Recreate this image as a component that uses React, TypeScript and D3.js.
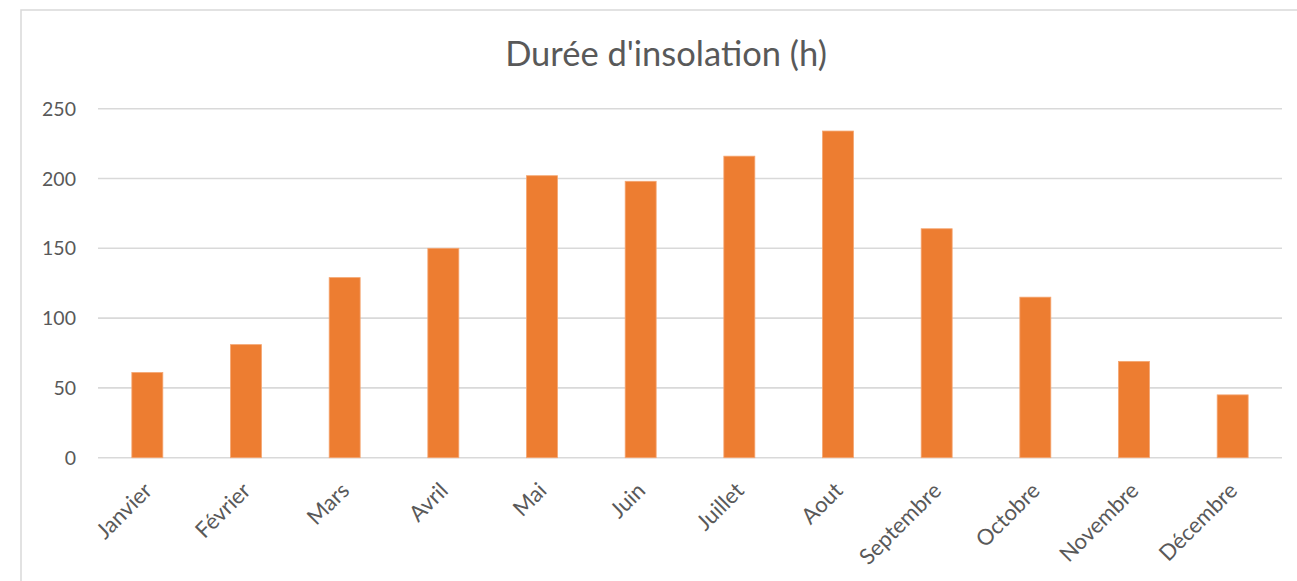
import React from "react";
import * as d3 from "d3";

// Monthly sunshine duration, in hours
const months = [
  "Janvier", "Février", "Mars", "Avril", "Mai", "Juin",
  "Juillet", "Aout", "Septembre", "Octobre", "Novembre", "Décembre",
];
const hours = [61, 81, 129, 150, 202, 198, 216, 234, 164, 115, 69, 45];
const yTicks = [0, 50, 100, 150, 200, 250];
const title = "Durée d'insolation (h)";

const W = 1297;
const H = 581;
const FONT = "Lato, 'Open Sans', sans-serif";
const TEXT = "#595959";
const GRID = "#d9d9d9";
const BAR = "#ED7D31";

export default function App() {
  const x = d3
    .scaleBand<string>()
    .domain(months)
    .range([98, 1282])
    .paddingInner(0.686)
    .paddingOuter(0.343);
  const y = d3.scaleLinear().domain([0, 250]).range([457.7, 108.7]);

  return (
    <svg
      width={W}
      height={H}
      style={{ position: "absolute", left: 0, top: 0, display: "block", background: "#fff" }}
    >
      {/* chart area frame */}
      <rect x={21} y={10} width={W + 50} height={H + 50} fill="#fff" stroke={GRID} strokeWidth={1.5} />

      <text x={666} y={66} textAnchor="middle" fontFamily={FONT} fontSize={34.5} fill={TEXT}>
        {title}
      </text>

      {/* horizontal gridlines and value labels */}
      {yTicks.map((t) => (
        <g key={t}>
          <line x1={98} x2={1282} y1={y(t)} y2={y(t)} stroke={GRID} strokeWidth={1.6} />
          <text
            x={76}
            y={y(t)}
            dy="0.36em"
            textAnchor="end"
            fontFamily={FONT}
            fontSize={19.5}
            fill={TEXT}
          >
            {t}
          </text>
        </g>
      ))}

      {/* bars */}
      {months.map((m, i) => (
        <rect
          key={m}
          x={x(m)}
          y={y(hours[i])}
          width={x.bandwidth()}
          height={y(0) - y(hours[i])}
          fill={BAR}
          stroke="#F4A672"
          strokeWidth={0.8}
        />
      ))}

      {/* rotated month labels */}
      {months.map((m) => {
        const cx = (x(m) as number) + x.bandwidth() / 2;
        const ax = cx + 6;
        const ay = 492;
        return (
          <text
            key={m}
            x={ax}
            y={ay}
            transform={`rotate(-45 ${ax} ${ay})`}
            textAnchor="end"
            fontFamily={FONT}
            fontSize={22}
            fill={TEXT}
          >
            {m}
          </text>
        );
      })}
    </svg>
  );
}
